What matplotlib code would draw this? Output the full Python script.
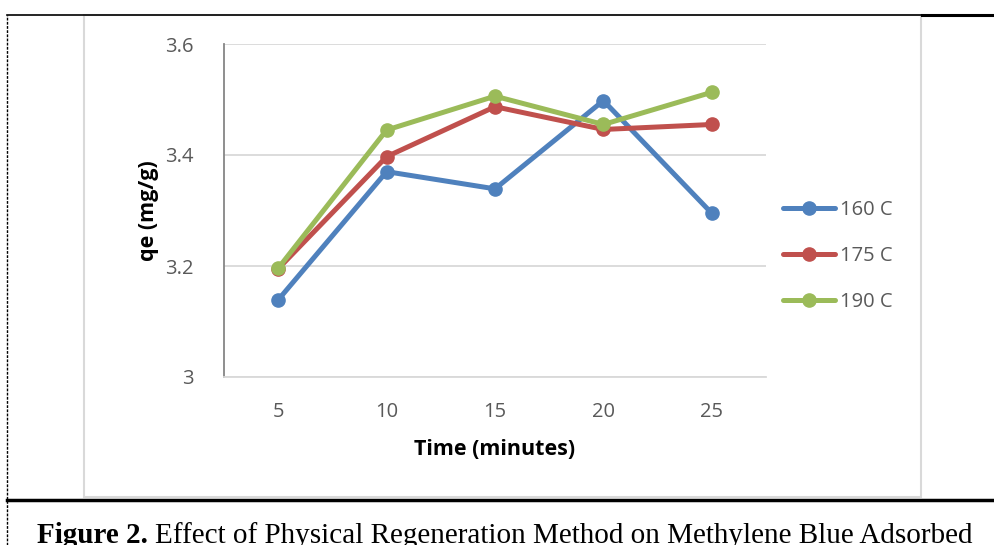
import matplotlib.pyplot as plt
from matplotlib.lines import Line2D
from matplotlib.patches import Rectangle

# data
times = ['5', '10', '15', '20', '25']
qe_160 = [3.139, 3.370, 3.339, 3.498, 3.295]
qe_175 = [3.195, 3.397, 3.487, 3.446, 3.455]
qe_190 = [3.196, 3.445, 3.506, 3.455, 3.513]
series_labels = ['160 C', '175 C', '190 C']
series_colors = ['#4F81BD', '#C0504D', '#9BBB59']
y_ticks = [3.0, 3.2, 3.4, 3.6]
y_tick_labels = ['3', '3.2', '3.4', '3.6']

W, H = 994, 545
fig = plt.figure(figsize=(W / 100, H / 100), dpi=100)
plt.rcParams['font.family'] = ['Open Sans', 'DejaVu Sans']

# chart frame (light grey box)
fig.patches.append(Rectangle((84 / W, 1 - 497 / H), (921 - 84) / W, (497 - 15) / H,
                             transform=fig.transFigure, fill=False,
                             edgecolor='#D9D9D9', linewidth=1.5))

# page lines around the figure
fig.add_artist(Line2D([7 / W, 1], [1 - 15 / H, 1 - 15 / H], color='black', lw=1.2))
fig.add_artist(Line2D([922 / W, 1], [1 - 15 / H, 1 - 15 / H], color='black', lw=2.2))
fig.add_artist(Line2D([7 / W, 1], [1 - 500 / H, 1 - 500 / H], color='black', lw=2.5))
fig.add_artist(Line2D([7 / W, 7 / W], [0, 1 - 15 / H], color='black', lw=1.0,
                      linestyle=(0, (2, 1))))

ax = fig.add_axes([224 / W, 1 - 377 / H, (766 - 224) / W, (377 - 44) / H])
x = range(len(times))
for vals, lab, col in zip([qe_160, qe_175, qe_190], series_labels, series_colors):
    ax.plot(x, vals, color=col, lw=3.6, marker='o', markersize=9.5,
            label=lab, solid_capstyle='round', zorder=3)

ax.set_xlim(-0.5, len(times) - 0.5)
ax.set_ylim(3.0, 3.6)
ax.set_xticks(list(x))
ax.set_xticklabels(times)
ax.set_yticks(y_ticks)
ax.set_yticklabels(y_tick_labels)
ax.tick_params(axis='both', length=0, labelsize=14.5, labelcolor='#595959')
ax.tick_params(axis='x', pad=18)
ax.tick_params(axis='y', pad=22)
ax.grid(axis='y', color='#D9D9D9', lw=1.3)
ax.set_axisbelow(True)
for s in ['top', 'right']:
    ax.spines[s].set_visible(False)
ax.spines['bottom'].set_color('#D9D9D9')
ax.spines['bottom'].set_linewidth(1.3)
ax.spines['left'].set_color('#868686')
ax.spines['left'].set_linewidth(1.3)

ax.set_xlabel('Time (minutes)', fontsize=15.5, fontweight='bold', labelpad=12)
ax.set_ylabel('qe (mg/g)', fontsize=15.5, fontweight='bold', labelpad=4)

ax.legend(loc='center left', bbox_to_anchor=(775 / W, 1 - 256 / H),
          bbox_transform=fig.transFigure, frameon=False,
          fontsize=14.5, labelcolor='#595959', handlelength=2.6,
          handletextpad=0.25, labelspacing=1.3, borderaxespad=0.0)

# caption (bold "Figure 2." followed by regular text)
serif = ['Liberation Serif', 'DejaVu Serif']
t1 = fig.text(37 / W, 1 - 543 / H, 'Figure 2.', family=serif, fontweight='bold',
              fontsize=21, va='baseline')
fig.canvas.draw()
bb = t1.get_window_extent(fig.canvas.get_renderer())
fig.text(bb.x1 / W + 7 / W, 1 - 543 / H,
         'Effect of Physical Regeneration Method on Methylene Blue Adsorbed',
         family=serif, fontsize=21, va='baseline')

fig.savefig('out.png', dpi=100)
